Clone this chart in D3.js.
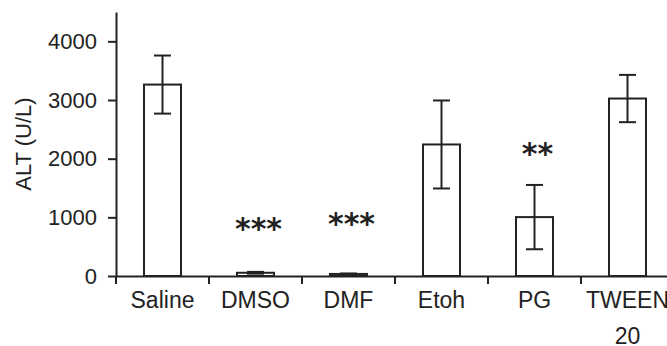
<!DOCTYPE html>
<html>
<head>
<meta charset="utf-8">
<script src="https://cdn.jsdelivr.net/npm/d3@7"></script>
<style>
  body { margin: 0; background: #fff; }
  svg { display: block; }
  .axis text { font-family: "Liberation Sans", Arial, sans-serif; font-size: 22px; fill: #222; }
  .axis path, .axis line { stroke: #222; stroke-width: 2; }
  .xlab text { font-size: 23px; }
</style>
</head>
<body>
<div id="main-chart"></div>
<script>
var w = 667, h = 346;

// data
var groups   = ["Saline", "DMSO", "DMF", "Etoh", "PG", "TWEEN 20"];
var alt_mean = [3263, 55, 35, 2242, 1004, 3025];
var alt_err  = [495, 15, 8, 750, 548, 403];
var stars    = ["", "***", "***", "", "**", ""];
var star_lvl = [0, 920, 995, 0, 2190, 0];
var yticks   = [0, 1000, 2000, 3000, 4000];

var rows = groups.map(function(g, i) {
    return { group: g, mean: alt_mean[i], err: alt_err[i], stars: stars[i], lvl: star_lvl[i] };
});

var svg = d3.select("#main-chart")
    .append("svg")
    .attr("width", w)
    .attr("height", h);

var x = d3.scaleBand()
    .domain(groups)
    .range([116, 674]);

var y = d3.scaleLinear()
    .domain([0, 4500])
    .range([276, 12]);

var barw = 37, capw = 17;

// y axis
var yAxis = d3.axisLeft(y)
    .tickValues(yticks)
    .tickSize(8)
    .tickSizeOuter(0)
    .tickPadding(11)
    .tickFormat(d3.format("d"));

svg.append("g")
    .attr("class", "axis")
    .attr("transform", "translate(116,0)")
    .call(yAxis);

// x axis: ticks on the group boundaries, labels in the middle
var xAxis = d3.axisBottom(x)
    .tickSize(8)
    .tickSizeOuter(0)
    .tickFormat("");

var gx = svg.append("g")
    .attr("class", "axis")
    .attr("transform", "translate(0,276)")
    .call(xAxis);
gx.selectAll(".tick line")
    .attr("x1", -x.bandwidth() / 2)
    .attr("x2", -x.bandwidth() / 2);

var lab = svg.append("g").attr("class", "axis xlab");
lab.selectAll("text")
    .data(groups)
    .enter()
    .append("text")
    .attr("text-anchor", "middle")
    .attr("x", function(d) { return x(d) + x.bandwidth() / 2; })
    .attr("y", 308)
    .each(function(d) {
        var parts = d.split(" ");
        var t = d3.select(this);
        parts.forEach(function(p, i) {
            t.append("tspan")
                .attr("x", x(d) + x.bandwidth() / 2)
                .attr("dy", i == 0 ? 0 : 36)
                .text(p);
        });
    });

// y label
svg.append("text")
    .attr("transform", "translate(31," + y(2250) + ") rotate(-90)")
    .attr("text-anchor", "middle")
    .style("font-family", "Liberation Sans, Arial, sans-serif")
    .style("font-size", "22px")
    .style("fill", "#222")
    .text("ALT (U/L)");

// bars
var bar = svg.selectAll(".bar")
    .data(rows)
    .enter()
    .append("g")
    .attr("class", "bar")
    .attr("transform", function(d) { return "translate(" + (x(d.group) + x.bandwidth() / 2) + ",0)"; });

bar.append("rect")
    .attr("x", -barw / 2)
    .attr("y", function(d) { return y(d.mean); })
    .attr("width", barw)
    .attr("height", function(d) { return y(0) - y(d.mean); })
    .attr("fill", "#fff")
    .attr("stroke", "#222")
    .attr("stroke-width", 2);

bar.append("line")
    .attr("x1", 0).attr("x2", 0)
    .attr("y1", function(d) { return y(d.mean + d.err); })
    .attr("y2", function(d) { return y(d.mean - d.err); })
    .attr("stroke", "#222")
    .attr("stroke-width", 2);

bar.selectAll(".cap")
    .data(function(d) { return [d.mean + d.err, d.mean - d.err]; })
    .enter()
    .append("line")
    .attr("class", "cap")
    .attr("x1", -capw / 2).attr("x2", capw / 2)
    .attr("y1", function(v) { return y(v); })
    .attr("y2", function(v) { return y(v); })
    .attr("stroke", "#222")
    .attr("stroke-width", 2);

bar.filter(function(d) { return d.stars != ""; })
    .append("text")
    .attr("x", 3)
    .attr("y", function(d) { return y(d.lvl); })
    .attr("dy", "0.55em")
    .attr("text-anchor", "middle")
    .style("font-family", "DejaVu Sans, sans-serif")
    .style("font-weight", "bold")
    .style("font-size", "30px")
    .style("fill", "#222")
    .text(function(d) { return d.stars; });
</script>
</body>
</html>
